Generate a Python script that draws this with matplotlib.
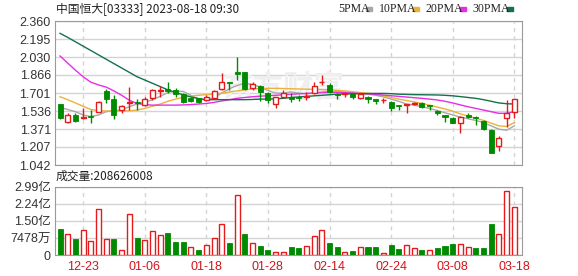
import numpy as np
import matplotlib
matplotlib.use('Agg')
import matplotlib.pyplot as plt

# K线数据 (开 高 低 收)
opens = [1.597, 1.432, 1.499, 1.475, 1.492, 1.530, 1.722, 1.646, 1.545, 1.605,
         1.615, 1.591, 1.652, 1.715, 1.734, 1.728, 1.688, 1.658, 1.652, 1.637,
         1.652, 1.734, 1.805, 1.890, 1.896, 1.744, 1.765, 1.697, 1.600, 1.667,
         1.667, 1.664, 1.660, 1.704, 1.800, 1.774, 1.695, 1.692, 1.697, 1.652,
         1.667, 1.643, 1.634, 1.615, 1.591, 1.591, 1.597, 1.606, 1.591, 1.536,
         1.500, 1.475, 1.429, 1.503, 1.484, 1.445, 1.362, 1.219, 1.469, 1.530]
highs = [1.600, 1.515, 1.515, 1.560, 1.545, 1.627, 1.734, 1.682, 1.591, 1.753,
         1.646, 1.661, 1.734, 1.765, 1.804, 1.744, 1.697, 1.667, 1.658, 1.682,
         1.728, 1.887, 1.805, 2.027, 1.896, 1.798, 1.774, 1.707, 1.667, 1.728,
         1.700, 1.685, 1.710, 1.805, 1.866, 1.790, 1.697, 1.704, 1.704, 1.692,
         1.673, 1.643, 1.652, 1.627, 1.591, 1.597, 1.621, 1.615, 1.594, 1.545,
         1.503, 1.480, 1.490, 1.520, 1.490, 1.450, 1.370, 1.305, 1.637, 1.650]
lows = [1.463, 1.428, 1.432, 1.460, 1.425, 1.524, 1.606, 1.463, 1.515, 1.545,
        1.545, 1.582, 1.637, 1.667, 1.697, 1.667, 1.606, 1.621, 1.606, 1.627,
        1.643, 1.728, 1.728, 1.821, 1.728, 1.728, 1.627, 1.606, 1.560, 1.661,
        1.620, 1.630, 1.640, 1.692, 1.774, 1.697, 1.649, 1.667, 1.646, 1.646,
        1.613, 1.600, 1.606, 1.536, 1.545, 1.515, 1.591, 1.566, 1.545, 1.500,
        1.440, 1.425, 1.332, 1.470, 1.410, 1.365, 1.152, 1.172, 1.393, 1.475]
closes = [1.469, 1.499, 1.447, 1.485, 1.485, 1.621, 1.646, 1.499, 1.582, 1.615,
          1.605, 1.646, 1.728, 1.728, 1.722, 1.688, 1.621, 1.630, 1.621, 1.667,
          1.722, 1.805, 1.792, 1.875, 1.734, 1.780, 1.713, 1.637, 1.661, 1.697,
          1.649, 1.655, 1.670, 1.763, 1.805, 1.713, 1.686, 1.697, 1.667, 1.688,
          1.646, 1.627, 1.637, 1.560, 1.582, 1.597, 1.612, 1.575, 1.582, 1.515,
          1.484, 1.429, 1.484, 1.484, 1.475, 1.371, 1.155, 1.292, 1.515, 1.643]

# 均线
ma5 = [1.57, 1.55, 1.53, 1.50, 1.485, 1.50, 1.53, 1.54, 1.545, 1.575,
       1.60, 1.615, 1.64, 1.67, 1.705, 1.72, 1.715, 1.68, 1.645, 1.637,
       1.66, 1.70, 1.74, 1.77, 1.79, 1.78, 1.755, 1.725, 1.70, 1.70,
       1.71, 1.70, 1.695, 1.70, 1.71, 1.72, 1.715, 1.71, 1.705, 1.695,
       1.69, 1.68, 1.665, 1.645, 1.625, 1.60, 1.59, 1.575, 1.56, 1.54,
       1.52, 1.50, 1.48, 1.465, 1.45, 1.43, 1.40, 1.37, 1.36, 1.40]
ma10 = [1.667, 1.64, 1.61, 1.58, 1.55, 1.54, 1.536, 1.536, 1.536, 1.538,
        1.545, 1.56, 1.58, 1.60, 1.625, 1.645, 1.66, 1.672, 1.68, 1.686,
        1.69, 1.70, 1.71, 1.72, 1.73, 1.738, 1.742, 1.744, 1.744, 1.742,
        1.74, 1.738, 1.736, 1.734, 1.732, 1.73, 1.725, 1.72, 1.713, 1.705,
        1.70, 1.69, 1.675, 1.66, 1.645, 1.632, 1.62, 1.605, 1.59, 1.572,
        1.555, 1.535, 1.51, 1.49, 1.47, 1.45, 1.425, 1.40, 1.395, 1.43]
ma20 = [2.04, 1.975, 1.91, 1.85, 1.80, 1.775, 1.755, 1.72, 1.68, 1.635,
        1.605, 1.595, 1.59, 1.59, 1.59, 1.59, 1.592, 1.595, 1.60, 1.605,
        1.615, 1.628, 1.64, 1.652, 1.66, 1.667, 1.672, 1.676, 1.68, 1.685,
        1.69, 1.693, 1.697, 1.70, 1.703, 1.705, 1.705, 1.704, 1.70, 1.697,
        1.693, 1.688, 1.682, 1.676, 1.67, 1.664, 1.658, 1.652, 1.645, 1.637,
        1.625, 1.61, 1.592, 1.575, 1.56, 1.545, 1.53, 1.515, 1.515, 1.53]
ma30 = [2.247, 2.21, 2.17, 2.13, 2.09, 2.05, 2.01, 1.97, 1.93, 1.89,
        1.85, 1.82, 1.79, 1.76, 1.73, 1.705, 1.685, 1.665, 1.65, 1.64,
        1.64, 1.64, 1.64, 1.64, 1.64, 1.642, 1.645, 1.645, 1.648, 1.652,
        1.66, 1.665, 1.67, 1.675, 1.68, 1.685, 1.69, 1.692, 1.694, 1.695,
        1.696, 1.697, 1.697, 1.695, 1.69, 1.688, 1.686, 1.685, 1.684, 1.683,
        1.68, 1.675, 1.668, 1.66, 1.652, 1.64, 1.625, 1.61, 1.603, 1.60]

# 成交量 (亿股) 及颜色 (R涨 G跌)
volume = [1.14, 0.90, 0.70, 1.09, 0.61, 2.01, 0.70, 0.70, 0.20, 1.78,
          0.76, 0.66, 1.04, 0.88, 0.96, 0.57, 0.57, 0.35, 0.22, 0.42,
          0.74, 1.34, 0.53, 2.63, 0.92, 0.51, 0.39, 0.22, 0.12, 0.12,
          0.35, 0.31, 0.38, 0.83, 1.08, 0.51, 0.35, 0.15, 0.16, 0.34,
          0.35, 0.35, 0.10, 0.42, 0.26, 0.42, 0.29, 0.20, 0.20, 0.31,
          0.38, 0.47, 0.47, 0.34, 0.31, 0.31, 1.36, 0.90, 2.80, 2.086]
vol_dir = "GRGRRRRGRRGRRRGGGRGRRRGRGRGGRRGGRRRGGRGRGGRGGRRGRGGGRRGGGRRR"

price_ticks = [1.042, 1.207, 1.371, 1.536, 1.701, 1.866, 2.030, 2.195, 2.360]
vol_ticks = [0, 0.7478, 1.4957, 2.2435, 2.9913]
vol_labels = ['0', '7478万', '1.50亿', '2.24亿', '2.99亿']
date_idx = [3, 11, 19, 27, 35, 43, 51, 59]
date_labels = ['12-23', '01-06', '01-18', '01-28', '02-14', '02-24', '03-08', '03-18']

RED = '#e41a1c'
GREEN = '#008a00'
GRID = '#d4d4d4'
BORDER = '#9a9a9a'
cjk = ['Liberation Sans', 'Noto Sans CJK SC']

fig = plt.figure(figsize=(5.78, 2.76), dpi=100)
ax = fig.add_axes([55 / 578, 1 - 165 / 276, 467 / 578, 144 / 276])
axv = fig.add_axes([55 / 578, 1 - 255 / 276, 467 / 578, 68.3 / 276])

x = np.arange(len(closes))
o = np.array(opens)
c = np.array(closes)
up = c >= o
body_lo = np.minimum(o, c)
body_h = np.maximum(np.abs(c - o), 0.004)
w = 0.65

# 影线
ax.vlines(x[up], np.array(lows)[up], np.array(highs)[up], color=RED, lw=1, zorder=3)
ax.vlines(x[~up], np.array(lows)[~up], np.array(highs)[~up], color=GREEN, lw=1, zorder=3)
# 实体
ax.bar(x[up], body_h[up], bottom=body_lo[up], width=w, facecolor='white',
       edgecolor=RED, linewidth=1, zorder=4)
ax.bar(x[~up], body_h[~up], bottom=body_lo[~up], width=w, facecolor=GREEN,
       edgecolor=GREEN, linewidth=0.6, zorder=4)

ax.plot(x, ma5, color='#a8a8a8', lw=1, zorder=2)
ax.plot(x, ma10, color='#eab23a', lw=1, zorder=2)
ax.plot(x, ma20, color='#e62ee6', lw=1, zorder=2)
ax.plot(x, ma30, color='#15704c', lw=1, zorder=2)

ax.text(29, 1.75, '东方财富', fontsize=22, fontweight='bold', color='#efefef',
        family='Noto Sans CJK SC', ha='center', va='center', zorder=1)

ax.set_xlim(-0.65, 60)
ax.set_ylim(1.042, 2.360)
ax.set_yticks(price_ticks)
ax.set_yticklabels(['%.3f' % t for t in price_ticks], family='Liberation Sans',
                   fontsize=9, color='#333333')
ax.set_xticks(date_idx)
ax.set_xticklabels([])
ax.grid(axis='y', color=GRID, lw=1, ls='-')
ax.grid(axis='x', color=GRID, lw=1, ls=(0, (3, 3)))
ax.set_axisbelow(True)
ax.tick_params(length=0, pad=3)
for s in ax.spines.values():
    s.set_color(BORDER)

vcol = [RED if d == 'R' else GREEN for d in vol_dir]
vol = np.array(volume) * 1e8
for i in range(len(vol)):
    if vol_dir[i] == 'R':
        axv.bar(x[i], vol[i], width=w, facecolor='white', edgecolor=RED, linewidth=1, zorder=3)
    else:
        axv.bar(x[i], vol[i], width=w, facecolor=GREEN, edgecolor=GREEN, linewidth=0.6, zorder=3)

axv.set_xlim(-0.65, 60)
axv.set_ylim(0, 2.9913e8)
axv.set_yticks([v * 1e8 for v in vol_ticks])
axv.set_yticklabels(vol_labels, family=cjk, fontsize=9, color='#333333')
axv.set_xticks(date_idx)
axv.set_xticklabels(date_labels, family='Liberation Sans', fontsize=9, color='#d0141c')
axv.grid(axis='y', color=GRID, lw=1, ls='-')
axv.grid(axis='x', color=GRID, lw=1, ls=(0, (3, 3)))
axv.set_axisbelow(True)
axv.tick_params(length=0, pad=3)
axv.tick_params(axis='x', pad=4)
for s in axv.spines.values():
    s.set_color(BORDER)

fig.text(56 / 578, 1 - 9 / 276, '中国恒大[03333] 2023-08-18 09:30', family=['Noto Sans CJK SC', 'DejaVu Sans'],
         fontsize=8.5, va='center', ha='left', color='#222222')
fig.text(56 / 578, 1 - 176 / 276, '成交量:208626008', family=['Noto Sans CJK SC', 'DejaVu Sans'],
         fontsize=8.5, va='center', ha='left', color='#222222')

# 图例
leg_items = [('5PMA', '#a8a8a8'), ('10PMA', '#eab23a'), ('20PMA', '#e62ee6'), ('30PMA', '#15704c')]
lx = 338
for name, col in leg_items:
    t = fig.text(lx / 578, 1 - 9 / 276, name, family='Liberation Serif', fontsize=8.5,
                 va='center', ha='left', color='#222222')
    tw = len(name) * 6.2
    fig.patches.append(plt.Rectangle(((lx + tw + 3) / 578, 1 - 10.5 / 276), 6 / 578, 3 / 276,
                                     transform=fig.transFigure, color=col))
    lx += tw + 16

fig.savefig('out.png', dpi=100, facecolor='white')
